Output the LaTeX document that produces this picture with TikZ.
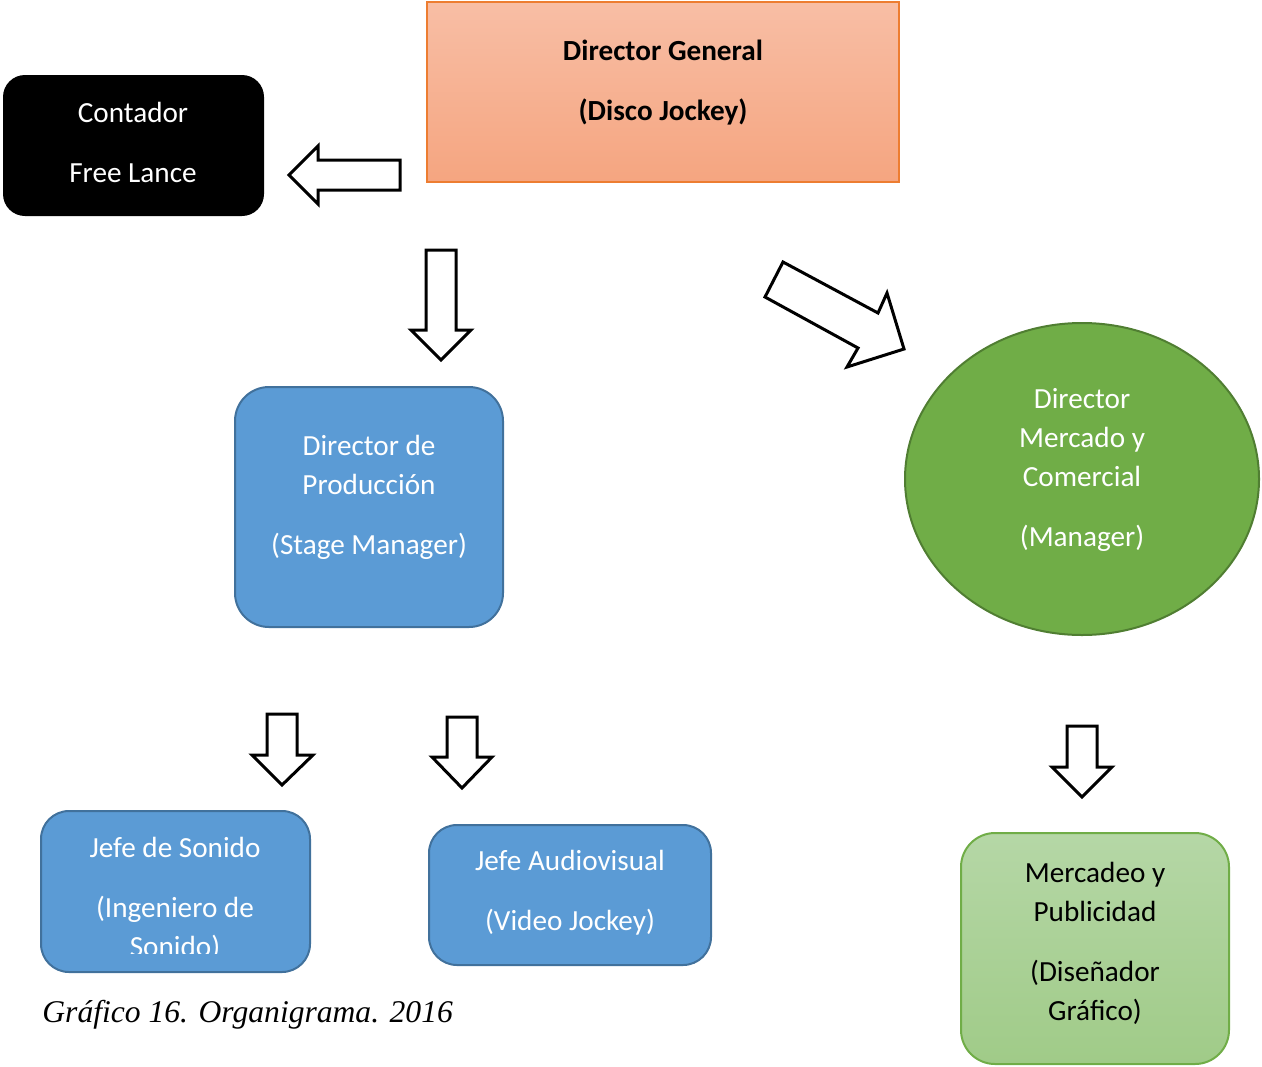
\documentclass[tikz,border=0pt]{standalone}
\usepackage{fontspec}
\usetikzlibrary{shapes.geometric}
\setmainfont{Carlito}
\newfontfamily\capfont{Liberation Serif}
\definecolor{bluefill}{HTML}{5B9BD5}
\definecolor{blueline}{HTML}{41719C}
\definecolor{greenfill}{HTML}{70AD47}
\definecolor{greenline}{HTML}{507E32}
\definecolor{orangeline}{HTML}{ED7D31}
\definecolor{orangetop}{RGB}{248,190,165}
\definecolor{orangebot}{RGB}{245,165,128}
\definecolor{ltgreentop}{RGB}{181,215,166}
\definecolor{ltgreenbot}{RGB}{160,203,136}
\definecolor{ltgreenline}{RGB}{112,173,71}
\begin{document}
\begin{tikzpicture}[x=0.5pt,y=-0.5pt,
  lbl/.style={align=center,font=\fontsize{14.6}{19.5}\selectfont,inner sep=0pt},
  bluebox/.style={draw=blueline,fill=bluefill,line width=1pt,rounded corners=14pt},
  barrow/.style={draw=black,fill=white,line width=1.5pt,line join=miter}]
\useasboundingbox (0,0) rectangle (1262,1066);

% Director General
\node[draw=orangeline,line width=1pt,top color=orangetop,bottom color=orangebot,
  minimum width=236pt,minimum height=90pt,inner sep=0pt] (dg) at (663,92) {};
\node[lbl,font=\fontsize{14.6}{19.5}\selectfont\bfseries] (dgt) at (663,83) {Director General\\[10.5pt](Disco Jockey)};

% Contador
\node[fill=black,rounded corners=11pt,minimum width=130.5pt,minimum height=70.5pt,inner sep=0pt] (cont) at (133.5,145.5) {};
\node[lbl,text=white] (contt) at (133,142) {Contador\\[10.5pt]Free Lance};

% Director de Produccion
\node[bluebox,rounded corners=17pt,minimum width=134pt,minimum height=120pt,inner sep=0pt] (prod) at (369,507) {};
\node[lbl,text=white] (prodt) at (369,497.5) {Director de\\Producción\\[10.5pt](Stage Manager)};

% Director Mercado
\node[ellipse,draw=greenline,fill=greenfill,line width=1pt,minimum width=177pt,minimum height=156pt,inner sep=0pt] (merc) at (1082,479) {};
\node[lbl,text=white] (merct) at (1082,469.5) {Director\\Mercado y\\Comercial\\[10.5pt](Manager)};

% Jefe de Sonido
\node[bluebox,minimum width=134.5pt,minimum height=80.5pt,inner sep=0pt] (son) at (175.5,891.5) {};
\begin{scope}
\clip (41,811) rectangle (310,953);
\node[lbl,text=white] (sont) at (175,899) {Jefe de Sonido\\[10.5pt](Ingeniero de\\Sonido)};
\end{scope}

% Jefe Audiovisual
\node[bluebox,minimum width=141pt,minimum height=70pt,inner sep=0pt] (av) at (570,895) {};
\node[lbl,text=white] (avt) at (570,893) {Jefe Audiovisual\\[10.5pt](Video Jockey)};

% Mercadeo y Publicidad
\node[draw=ltgreenline,line width=1pt,top color=ltgreentop,bottom color=ltgreenbot,rounded corners=17pt,
  minimum width=134pt,minimum height=115.5pt,inner sep=0pt] (pub) at (1095,948.5) {};
\node[lbl] (pubt) at (1095,943.5) {Mercadeo y\\Publicidad\\[10.5pt](Diseñador\\Gráfico)};

% Block arrows
\draw[barrow] (400,160) -- (318,160) -- (318,146) -- (289,175) -- (318,204) -- (318,190) -- (400,190) -- cycle;
\draw[barrow] (426,250) -- (456,250) -- (456,330) -- (471,330) -- (441,360) -- (411,330) -- (426,330) -- cycle;
\draw[barrow] (783,262) -- (878,313) -- (887,293) -- (904,349) -- (847,367) -- (858,348) -- (765,297) -- cycle;
\draw[barrow] (267,714) -- (297,714) -- (297,755) -- (313,755) -- (282,785) -- (252,755) -- (267,755) -- cycle;
\draw[barrow] (447,717) -- (477,717) -- (477,757) -- (492,757) -- (462,788) -- (432,757) -- (447,757) -- cycle;
\draw[barrow] (1067,726) -- (1097,726) -- (1097,767) -- (1112,767) -- (1082,797) -- (1052,767) -- (1067,767) -- cycle;

% Caption
\node[anchor=base west,inner sep=0pt,font=\capfont\itshape\fontsize{15.8}{19}\selectfont] (cap) at (42,1022) {Gráfico 16. Organigrama. 2016};
\end{tikzpicture}
\end{document}
